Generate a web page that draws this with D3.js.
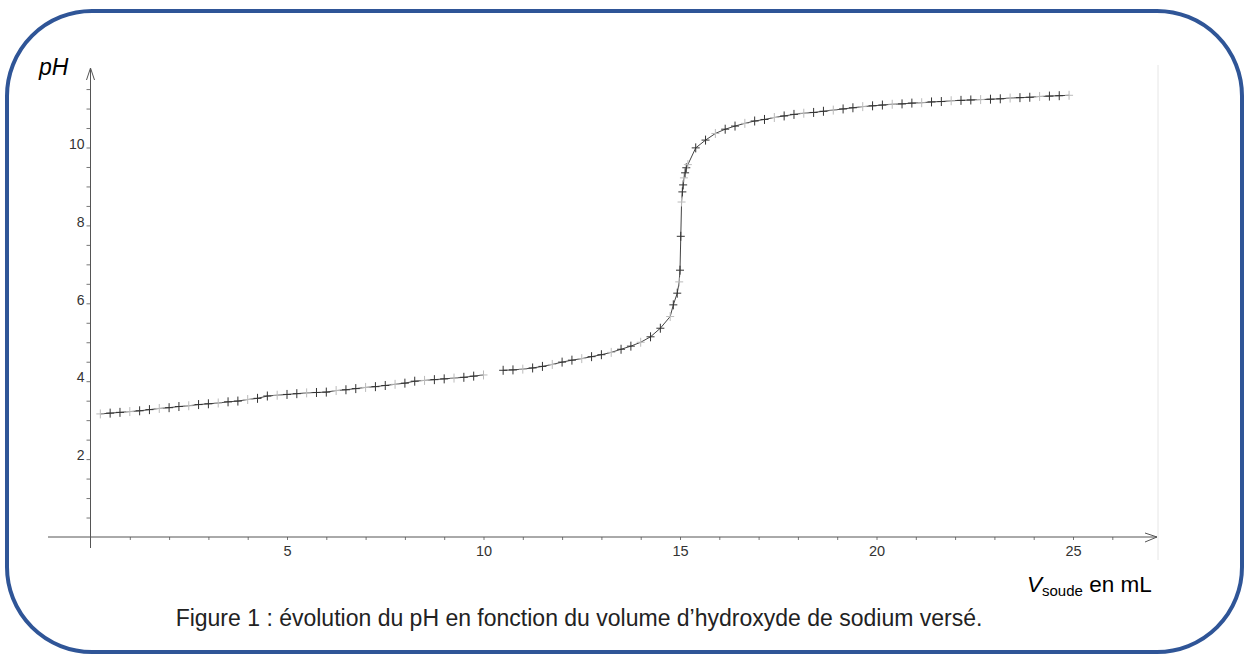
<!DOCTYPE html>
<html>
<head>
<meta charset="utf-8">
<script src="https://cdn.jsdelivr.net/npm/d3@7"></script>
<style>
  body { margin: 0; background: #fff; }
  svg { display: block; font-family: "Liberation Sans", Arial, sans-serif; }
</style>
</head>
<body>
<div id="chart"></div>
<script>
// volume of NaOH added (mL) and measured pH
var volume = [
  0.25, 0.5, 0.75, 1, 1.25, 1.5, 1.75, 2, 2.25, 2.5, 2.75, 3, 3.25, 3.5, 3.75, 4,
  4.25, 4.5, 4.75, 5, 5.25, 5.5, 5.75, 6, 6.25, 6.5, 6.75, 7, 7.25, 7.5, 7.75, 8,
  8.25, 8.5, 8.75, 9, 9.25, 9.5, 9.75, 10,
  10.5, 10.75, 11, 11.25, 11.5, 11.75, 12, 12.25, 12.5, 12.75, 13, 13.25, 13.5, 13.75,
  14, 14.25, 14.5, 14.75,
  14.83, 14.93, 14.98, 15, 15.02, 15.04, 15.06, 15.08, 15.1, 15.13, 15.16, 15.2,
  15.4, 15.65, 15.9, 16.15, 16.4, 16.65, 16.9, 17.15, 17.4, 17.65, 17.9, 18.15, 18.4,
  18.65, 18.9, 19.15, 19.4, 19.65, 19.9, 20.15, 20.4, 20.65, 20.9, 21.15, 21.4, 21.65,
  21.9, 22.15, 22.4, 22.65, 22.9, 23.15, 23.4, 23.65, 23.9, 24.15, 24.4, 24.65, 24.9
];
var ph = [
  3.16, 3.18, 3.20, 3.22, 3.24, 3.27, 3.30, 3.32, 3.35, 3.37, 3.40, 3.42, 3.44, 3.47, 3.49, 3.53,
  3.56, 3.62, 3.64, 3.66, 3.68, 3.70, 3.71, 3.72, 3.76, 3.78, 3.81, 3.84, 3.86, 3.89, 3.92, 3.95,
  4.00, 4.02, 4.04, 4.06, 4.08, 4.10, 4.13, 4.16,
  4.28, 4.29, 4.31, 4.34, 4.38, 4.43, 4.49, 4.54, 4.58, 4.63, 4.68, 4.74, 4.82, 4.90,
  5.00, 5.14, 5.36, 5.66,
  5.96, 6.26, 6.55, 6.85, 7.72, 8.60, 8.86, 9.04, 9.22, 9.35, 9.48, 9.56,
  9.99, 10.19, 10.36, 10.47, 10.55, 10.62, 10.68, 10.72, 10.77, 10.81, 10.85, 10.88, 10.90,
  10.93, 10.96, 10.99, 11.02, 11.05, 11.07, 11.09, 11.11, 11.12, 11.14, 11.15, 11.17, 11.18,
  11.20, 11.21, 11.22, 11.23, 11.24, 11.25, 11.27, 11.28, 11.29, 11.31, 11.32, 11.33, 11.34
];
var xLabels = [5, 10, 15, 20, 25];
var yLabels = [2, 4, 6, 8, 10];
var caption = "Figure 1 : évolution du pH en fonction du volume d\u2019hydroxyde de sodium versé.";

var width = 1246, height = 655;

var svg = d3.select("#chart").append("svg")
  .attr("width", width)
  .attr("height", height);

// rounded blue frame
svg.append("rect")
  .attr("x", 7).attr("y", 11)
  .attr("width", 1235).attr("height", 641)
  .attr("rx", 85).attr("ry", 85)
  .attr("fill", "none")
  .attr("stroke", "#2f5597")
  .attr("stroke-width", 4);

var x = d3.scaleLinear().domain([0, 25]).range([90.5, 1073]);
var y = d3.scaleLinear().domain([0, 10]).range([537, 147.5]);

// faint right border of the plot area
svg.append("line")
  .attr("x1", 1158).attr("x2", 1158)
  .attr("y1", 65).attr("y2", 560)
  .attr("stroke", "#e6e6e6");

// x axis
var xAxis = d3.axisBottom(x)
  .tickValues(d3.range(1, 27))
  .tickFormat(function(d){ return xLabels.indexOf(d) >= 0 ? d : ""; })
  .tickSizeInner(3)
  .tickSizeOuter(0)
  .tickPadding(6);

var gx = svg.append("g")
  .attr("transform", "translate(0," + y(0) + ")")
  .call(xAxis);
gx.select(".domain").remove();
gx.selectAll("line").attr("stroke", "#777");
gx.selectAll("text").attr("font-size", 14.5).attr("fill", "#333");

svg.append("line")
  .attr("x1", 48).attr("x2", 1157)
  .attr("y1", y(0)).attr("y2", y(0))
  .attr("stroke", "#555");
svg.append("path")
  .attr("d", "M1145," + (y(0) - 4) + "L1157," + y(0) + "L1145," + (y(0) + 5))
  .attr("fill", "none").attr("stroke", "#555");

// y axis
var yAxis = d3.axisLeft(y)
  .tickValues(d3.range(0.5, 12, 0.5))
  .tickFormat(function(d){ return yLabels.indexOf(d) >= 0 ? d : ""; })
  .tickSizeInner(4)
  .tickSizeOuter(0)
  .tickPadding(2);

var gy = svg.append("g")
  .attr("transform", "translate(" + x(0) + ",0)")
  .call(yAxis);
gy.select(".domain").remove();
gy.selectAll("line").attr("stroke", "#777");
gy.selectAll("text").attr("font-size", 14).attr("fill", "#333").attr("dy", "0.05em");

svg.append("line")
  .attr("x1", x(0)).attr("x2", x(0))
  .attr("y1", 68).attr("y2", 548)
  .attr("stroke", "#555");
svg.append("path")
  .attr("d", "M" + (x(0) - 4) + ",80L" + x(0) + ",68L" + (x(0) + 4) + ",80")
  .attr("fill", "none").attr("stroke", "#555");

// axis titles
svg.append("text")
  .attr("x", 39).attr("y", 75)
  .attr("font-size", 23)
  .attr("font-style", "italic")
  .text("pH");

var xt = svg.append("text")
  .attr("x", 1027).attr("y", 592)
  .attr("font-size", 22.5);
xt.append("tspan").attr("font-style", "italic").text("V");
xt.append("tspan").attr("font-size", 15).attr("dy", 4).text("soude");
xt.append("tspan").attr("dy", -4).text(" en mL");

// caption
svg.append("text")
  .attr("x", 579).attr("y", 626)
  .attr("text-anchor", "middle")
  .attr("font-size", 23)
  .attr("fill", "#222")
  .text(caption);

// data curve (broken where the record has a gap)
var pts = volume.map(function(v, i){ return [v, ph[i]]; });
var line = d3.line()
  .x(function(d){ return x(d[0]); })
  .y(function(d){ return y(d[1]); });

var segs = [[]];
pts.forEach(function(d, i){
  if (i > 0 && d[0] - pts[i - 1][0] > 0.4) segs.push([]);
  segs[segs.length - 1].push(d);
});

svg.append("g").selectAll("path")
  .data(segs)
  .enter().append("path")
  .attr("d", line)
  .attr("fill", "none")
  .attr("stroke", "#444")
  .attr("stroke-width", 1);

// markers
svg.append("g").selectAll("path")
  .data(pts)
  .enter().append("path")
  .attr("d", function(d){
    var cx = x(d[0]), cy = y(d[1]);
    return "M" + (cx - 4) + "," + cy + "H" + (cx + 4) +
           "M" + cx + "," + (cy - 4.5) + "V" + (cy + 4.5);
  })
  .attr("fill", "none")
  .attr("stroke", function(d, i){ return (i % 3 === 0) ? "#bbb" : "#333"; })
  .attr("stroke-width", 1);
</script>
</body>
</html>
